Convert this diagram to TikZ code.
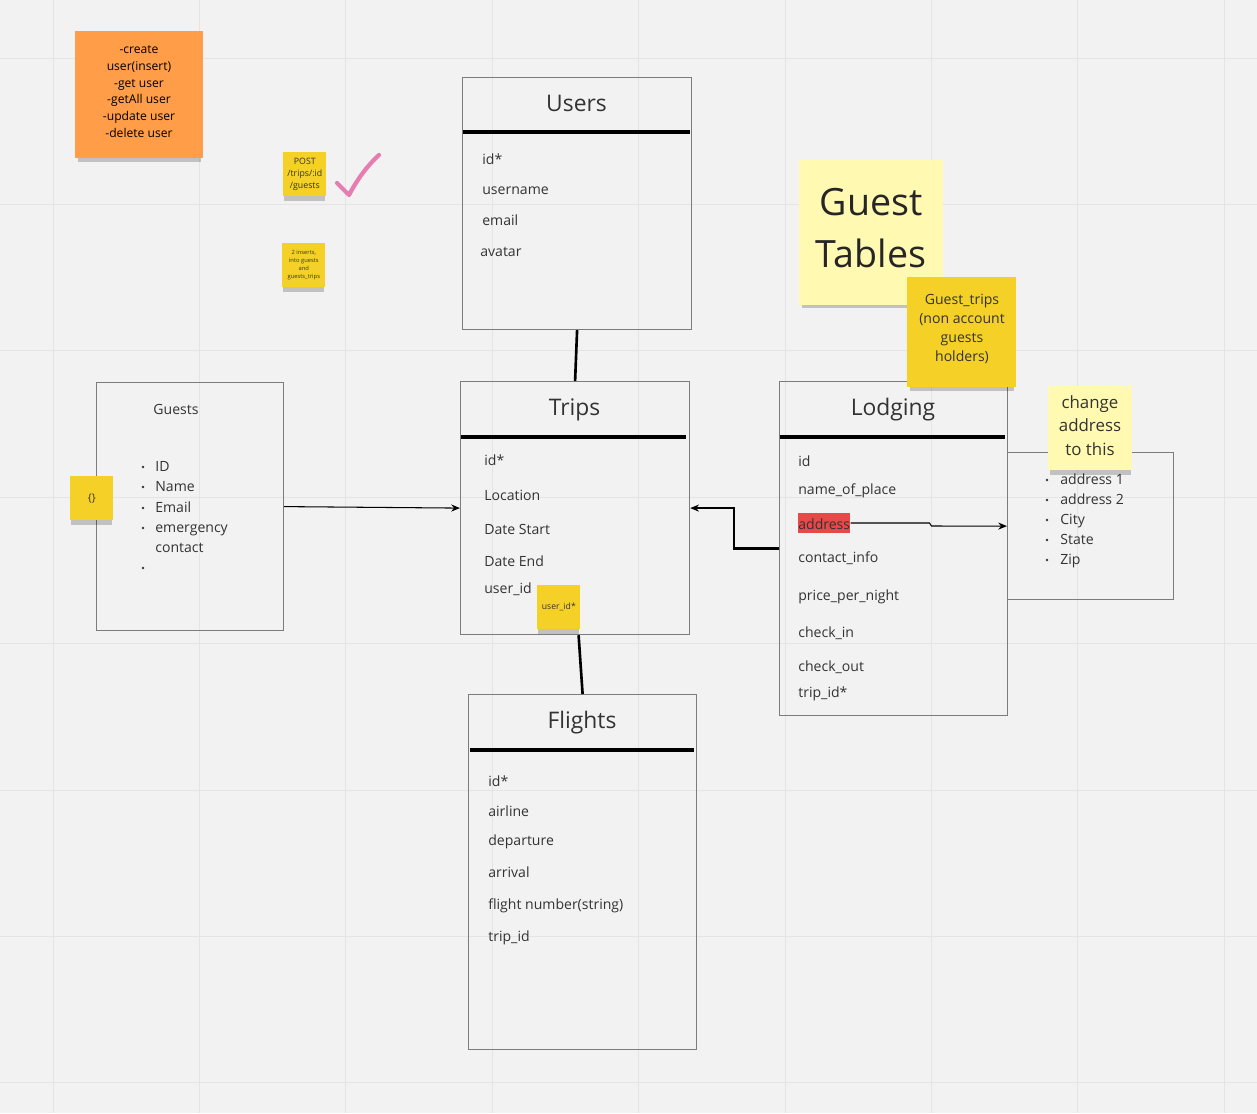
\documentclass[tikz,border=0pt]{standalone}
\usepackage{fontspec}
\setmainfont{Open Sans}
\usetikzlibrary{arrows.meta,shadows}
\definecolor{board}{HTML}{F2F2F2}
\definecolor{gridln}{HTML}{E4E4E4}
\definecolor{boxgray}{HTML}{7C7C7C}
\definecolor{ink}{HTML}{333333}
\definecolor{orangenote}{HTML}{FF9D48}
\definecolor{yellownote}{HTML}{F5D128}
\definecolor{palenote}{HTML}{FFF9B1}
\definecolor{hilite}{HTML}{E84848}
\definecolor{tick}{HTML}{E67CB0}
\tikzset{
  tbl/.style={draw=boxgray, line width=0.7pt, anchor=north west, inner sep=0pt},
  ttl/.style={anchor=base, text=ink, inner sep=0pt, font=\fontsize{13}{15}\selectfont},
  fld/.style={anchor=west, inner sep=0pt, text=ink, text height=1.5ex, text depth=.3ex,
    font=\fontsize{8}{10}\selectfont},
  dot/.style={circle, fill=ink, inner sep=0pt, minimum size=0.055cm},
  sep/.style={line width=1.8pt, black},
  link/.style={line width=1.5pt, black},
  thin link/.style={line width=0.6pt, black},
  note/.style={anchor=north west, align=center, inner sep=0pt, text=ink,
    drop shadow={shadow xshift=0pt, shadow yshift=-3.5pt, shadow scale=0.96,
      opacity=.2, fill=black}},
  note text/.style={align=center, inner sep=0pt},
  >={Stealth[length=5pt, width=4pt]},
}
\begin{document}
\begin{tikzpicture}[x=0.02cm, y=-0.02cm]
    % Board and grid
    \fill[board] (0,0) rectangle (1257,1113);
    \useasboundingbox (0,0) rectangle (1257,1113);
    \foreach \gx in {53,199.4,...,1230}
        \draw[gridln, line width=0.5pt] (\gx,0) -- (\gx,1113);
    \foreach \gy in {58,204.4,...,1113}
        \draw[gridln, line width=0.5pt] (0,\gy) -- (1257,\gy);

    % Users table
    \node[tbl, minimum width=4.58cm, minimum height=5.04cm] (users) at (462,77) {};
    \node[ttl] (usersttl) at (576.5,111) {Users};
    \draw[sep] (463,132) -- (690,132);
    \node[fld] (uid) at (482,159) {id*};
    \node[fld] (uname) at (482,189) {username};
    \node[fld] (umail) at (482,220) {email};
    \node[fld] (uavatar) at (480,251) {avatar};

    % Trips table
    \node[tbl, minimum width=4.58cm, minimum height=5.06cm] (trips) at (460,381) {};
    \node[ttl] (tripsttl) at (574.5,415) {Trips};
    \draw[sep] (461,437) -- (686,437);
    \node[fld] (tid) at (484,460) {id*};
    \node[fld] (tloc) at (484,495) {Location};
    \node[fld] (tstart) at (484,529) {Date Start};
    \node[fld] (tend) at (484,561) {Date End};
    \node[fld] (tuser) at (484,588) {user\_id};

    % Flights table
    \node[tbl, minimum width=4.56cm, minimum height=7.1cm] (flights) at (468,694) {};
    \node[ttl] (flightsttl) at (582,728) {Flights};
    \draw[sep] (470,750) -- (694,750);
    \node[fld] (fid) at (488,781) {id*};
    \node[fld] (fair) at (488,811) {airline};
    \node[fld] (fdep) at (488,840) {departure};
    \node[fld] (farr) at (488,872) {arrival};
    \node[fld] (fnum) at (488,904) {flight number(string)};
    \node[fld] (ftrip) at (488,936) {trip\_id};

    % Guests table
    \node[tbl, minimum width=3.74cm, minimum height=4.96cm] (guests) at (96,382) {};
    \node[fld, anchor=center] (gueststtl) at (176,409) {Guests};
    \node[dot] (gb1) at (143,467) {};
    \node[fld] (g1) at (155,466) {ID};
    \node[dot] (gb2) at (143,487) {};
    \node[fld] (g2) at (155,486) {Name};
    \node[dot] (gb3) at (143,508) {};
    \node[fld] (g3) at (155,507) {Email};
    \node[dot] (gb4) at (143,528) {};
    \node[fld] (g4) at (155,527) {emergency};
    \node[fld] (g5) at (155,547) {contact};
    \node[dot] (gb6) at (143,568) {};

    % Lodging table
    \node[tbl, minimum width=4.56cm, minimum height=6.68cm] (lodging) at (779,381) {};
    \node[ttl] (lodgingttl) at (893,415) {Lodging};
    \draw[sep] (780,437) -- (1005,437);
    \node[fld] (lid) at (798,461) {id};
    \node[fld] (lname) at (798,489) {name\_of\_place};
    \node[fld, fill=hilite, text depth=.45ex, text height=1.75ex] (laddr) at (798,523) {address};
    \node[fld] (lcontact) at (798,557) {contact\_info};
    \node[fld] (lprice) at (798,595) {price\_per\_night};
    \node[fld] (lin) at (798,632) {check\_in};
    \node[fld] (lout) at (798,666) {check\_out};
    \node[fld] (ltrip) at (798,692) {trip\_id*};

    % Address table
    \node[tbl, minimum width=3.32cm, minimum height=2.94cm] (addr) at (1007,452) {};
    \node[dot] (ab1) at (1047,480) {};
    \node[fld] (a1) at (1060,479) {address 1};
    \node[dot] (ab2) at (1047,500) {};
    \node[fld] (a2) at (1060,499) {address 2};
    \node[dot] (ab3) at (1047,520) {};
    \node[fld] (a3) at (1060,519) {City};
    \node[dot] (ab4) at (1047,540) {};
    \node[fld] (a4) at (1060,539) {State};
    \node[dot] (ab5) at (1047,560) {};
    \node[fld] (a5) at (1060,559) {Zip};

    % Connectors
    \draw[link] (users.south) -- (trips.north);
    \draw[link] ([xshift=0.07cm]trips.south) -- (flights.north);
    \draw[thin link, ->] (guests.east) -- (trips.west);
    \draw[link, ->] (lodging.west) -- ++(-45,0) |- (trips.east);
    \draw[thin link, ->] (laddr.east) -- ++(79,0) -- ++(2,3) -- (addr.west);

    % Sticky notes
    \node[note, fill=orangenote, minimum width=2.56cm, minimum height=2.54cm] (crud) at (75,31) {};
    \node[note text, font=\fontsize{6.9}{9.6}\selectfont] (crudtxt) at (139,91.5)
        {-create\\user(insert)\\-get user\\-getAll user\\-update user\\-delete user};
    \node[note, fill=yellownote, minimum width=0.86cm, minimum height=0.88cm,
        font=\fontsize{5}{6.8}\selectfont] (post) at (283,152)
        {POST\\/trips/:id\\/guests};
    \draw[tick, line width=2.4pt, line cap=round, line join=round]
        (337,183) -- (349,195) .. controls (358,178) and (368,165) .. (379,155);
    \node[note, fill=yellownote, minimum width=0.86cm, minimum height=0.88cm,
        font=\fontsize{3.3}{4.5}\selectfont] (inserts) at (282,243)
        {2 inserts,\\into guests\\and\\guests\_trips};
    \node[note, fill=yellownote, minimum width=0.86cm, minimum height=0.88cm,
        font=\fontsize{6}{7}\selectfont] (braces) at (70,476) {\{\}};
    \node[note, fill=yellownote, minimum width=0.86cm, minimum height=0.88cm,
        font=\fontsize{4.9}{6}\selectfont] (userid) at (537,585) {user\_id*};
    \node[note, fill=palenote, minimum width=2.88cm, minimum height=2.9cm] (guesttbl) at (799,160) {};
    \node[note text, text=black!85, font=\fontsize{21.4}{29.5}\selectfont] (guesttbltxt)
        at (871,228) {Guest\\Tables};
    \node[note, fill=yellownote, minimum width=2.18cm, minimum height=2.2cm] (guesttrips) at (907,277) {};
    \node[note text, text=ink, font=\fontsize{8}{10.8}\selectfont] (guesttripstxt)
        at (962,329) {Guest\_trips\\(non account\\guests\\holders)};
    \node[note, fill=palenote, minimum width=1.68cm, minimum height=1.68cm] (change) at (1048,386) {};
    \node[note text, text=ink, font=\fontsize{9.6}{13.3}\selectfont] (changetxt)
        at (1090,425.5) {change\\address\\to this};
\end{tikzpicture}
\end{document}
